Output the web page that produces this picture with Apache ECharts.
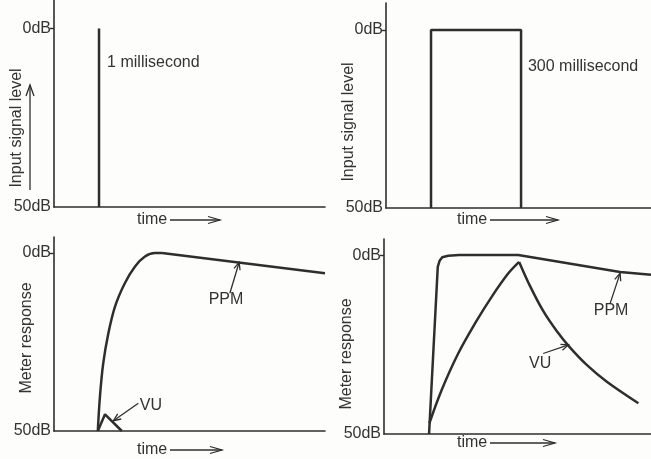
<!DOCTYPE html>
<html><head><meta charset="utf-8">
<script src="https://cdn.jsdelivr.net/npm/echarts@6/dist/echarts.min.js"></script>
<style>html,body{margin:0;padding:0;background:#fdfdfb}#c{width:651px;height:459px}</style>
</head><body><div id="c"></div><script>
// ---- data (time in ms, level in dB relative to 0dB) ----
const yTickValues = [0, -50];
const yTickLabels = {'0': '0dB', '-50': '50dB'};
const axisNames = ['Input signal level', 'Input signal level', 'Meter response', 'Meter response'];
const pulse1ms = [[150, -50], [150, 0]];
const pulse300ms = [[150, -50], [150, 0], [450, 0], [450, -50]];
const ppmShortRise = [[146, -50], [153, -40.4], [164, -31], [181, -22.6], [203, -15.1], [236, -8.5], [270, -3.8], [303, -1.0], [336, 0], [360, 0]];
const ppmShortDecay = [[360, 0], [903, -5.7]];
const vuShort = [[146, -50], [170, -45.3], [226, -50]];
const ppmLong = [[150, -50], [179, -3.3], [185, -1.6], [194, -0.6], [214, -0.2], [250, 0], [447, 0], [786, -4.7], [889, -5.5]];
const vuLongRise = [[151, -47], [192, -37.7], [247, -27.5], [303, -19.1], [359, -11.6], [414, -5.1], [450, -1.9]];
const vuLongFall = [[450, -1.9], [486, -8.6], [530, -15.6], [575, -21.2], [619, -25.8], [675, -30.7], [742, -35.4], [847, -41.4]];
// annotations: [panel, x, y, text, align]
const noteTexts = [[0, 177, -9.6, '1 millisecond', 'left'], [1, 473, -10.4, '300 millisecond', 'left'],
  [2, 573, -13.2, 'PPM', 'center'], [2, 323, -43, 'VU', 'center'],
  [3, 756, -15.4, 'PPM', 'center'], [3, 520, -30.4, 'VU', 'center']];
// annotation arrows: [panel, fromX, fromY, toX, toY]
const noteArrows = [[2, 586, -11.3, 617, -2.6], [2, 281, -42.2, 198, -47.1],
  [3, 753, -13.5, 786, -5.1], [3, 530, -27.5, 614, -25.1]];

const INK = '#2e2e2e';
const FONT = '"Liberation Sans", Arial, Helvetica, sans-serif';
const panels = [
  {left: 54, top: 0, width: 271, height: 207, xMax: 903, yMax: 8, nameGap: 29, namePad: 49, timeDx: 83, timeDy: 13, arrowLen: 83},
  {left: 386, top: 3, width: 265, height: 205, xMax: 883, yMax: 7.6, nameGap: 29, namePad: 33, timeDx: 71, timeDy: 12, arrowLen: 101},
  {left: 54, top: 237, width: 271, height: 194, xMax: 903, yMax: 4.5, nameGap: 19, namePad: 8, timeDx: 83, timeDy: 19, arrowLen: 85},
  {left: 384, top: 239, width: 267, height: 195, xMax: 889, yMax: 4.5, nameGap: 29, namePad: 35, timeDx: 73, timeDy: 9, arrowLen: 98}
];

const chart = echarts.init(document.getElementById('c'));
const lineSeries = (data, i, smooth) => ({
  type: 'line', data, xAxisIndex: i, yAxisIndex: i, symbol: 'none', animation: false,
  smooth: smooth || false, lineStyle: {color: INK, width: 2.5}, silent: true
});
chart.setOption({
  backgroundColor: '#fdfdfb',
  animation: false,
  textStyle: {fontFamily: FONT},
  grid: panels.map(p => ({left: p.left, top: p.top, width: p.width, height: p.height, containLabel: false, outerBoundsMode: 'none'})),
  xAxis: panels.map((p, i) => ({
    type: 'value', gridIndex: i, min: 0, max: p.xMax,
    axisLine: {show: true, onZero: false, lineStyle: {color: INK, width: 1.6}},
    axisTick: {show: false}, axisLabel: {show: false}, splitLine: {show: false}
  })),
  yAxis: panels.map((p, i) => ({
    type: 'value', gridIndex: i, min: -50, max: p.yMax, interval: 50,
    name: axisNames[i], nameLocation: 'middle', nameGap: p.nameGap, nameRotate: 90, nameMoveOverlap: false,
    nameTextStyle: {color: '#333', fontSize: 16, fontFamily: FONT, padding: [0, p.namePad, 0, 0]},
    axisLine: {show: true, lineStyle: {color: INK, width: 1.6}},
    axisTick: {show: true, customValues: [0], length: 4, lineStyle: {color: INK, width: 1.4}},
    axisLabel: {show: true, customValues: yTickValues, margin: 3, color: '#333', fontSize: 16, fontFamily: FONT,
      formatter: v => yTickLabels[String(v)] || ''},
    splitLine: {show: false}
  })),
  series: [
    lineSeries(pulse1ms, 0),
    lineSeries(pulse300ms, 1),
    lineSeries(ppmShortRise, 2, 0.35), lineSeries(ppmShortDecay, 2), lineSeries(vuShort, 2),
    lineSeries(ppmLong, 3), lineSeries(vuLongRise, 3, 0.35), lineSeries(vuLongFall, 3, 0.35)
  ]
});

const px = (i, x, y) => chart.convertToPixel({gridIndex: i}, [x, y]);
function head(tip, from, len, ang) {
  const dx = tip[0] - from[0], dy = tip[1] - from[1], L = Math.hypot(dx, dy);
  const ux = dx / L, uy = dy / L;
  const rot = a => [tip[0] - len * (ux * Math.cos(a) - uy * Math.sin(a)), tip[1] - len * (ux * Math.sin(a) + uy * Math.cos(a))];
  return [rot(ang), tip, rot(-ang)];
}
const graphics = [];
const stroke = {stroke: INK, lineWidth: 1.3, fill: null};
noteTexts.forEach(([i, x, y, t, al]) => {
  const p = px(i, x, y);
  graphics.push({type: 'text', x: p[0], y: p[1], silent: true,
    style: {text: t, fill: '#333', font: '16px ' + FONT, textAlign: al, textVerticalAlign: 'middle'}});
});
noteArrows.forEach(([i, x1, y1, x2, y2]) => {
  const a = px(i, x1, y1), b = px(i, x2, y2);
  graphics.push({type: 'polyline', silent: true, shape: {points: [a, b]}, style: stroke});
  graphics.push({type: 'polyline', silent: true, shape: {points: head(b, a, 8, 0.4)}, style: stroke});
});
panels.forEach((p, i) => {
  const x0 = p.left + p.timeDx, y0 = p.top + p.height + p.timeDy;
  graphics.push({type: 'text', x: x0, y: y0, silent: true,
    style: {text: 'time', fill: '#333', font: '16px ' + FONT, textAlign: 'left', textVerticalAlign: 'middle'}});
  const a = [x0 + 33, y0], b = [x0 + p.arrowLen, y0];
  graphics.push({type: 'polyline', silent: true, shape: {points: [a, b]}, style: stroke});
  graphics.push({type: 'polyline', silent: true, shape: {points: [[b[0] - 12, y0 - 3.5], b, [b[0] - 12, y0 + 3.5]]}, style: stroke});
});
// upward arrow beside the first level label
{
  const a = [30, 190], b = [30, 85];
  graphics.push({type: 'polyline', silent: true, shape: {points: [a, b]}, style: stroke});
  graphics.push({type: 'polyline', silent: true, shape: {points: [[26, 96], b, [34, 96]]}, style: stroke});
}
chart.setOption({graphic: graphics});
</script></body></html>
